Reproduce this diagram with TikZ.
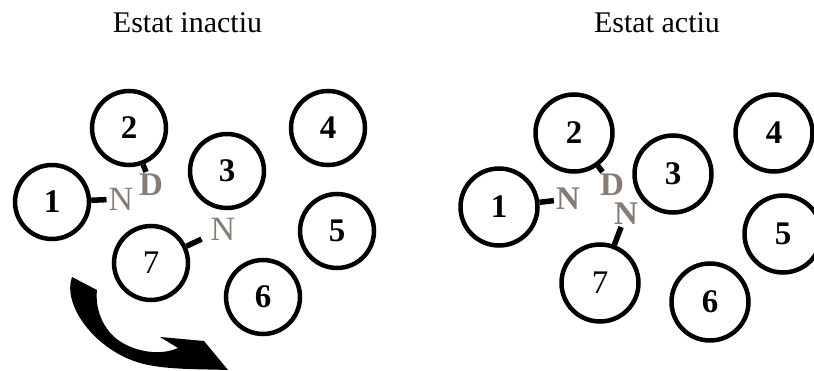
\documentclass[tikz,border=0pt]{standalone}
\usepackage{fontspec}
\setmainfont{Liberation Serif}
\usepackage{tikz}
\definecolor{lettergray}{RGB}{134,124,116}

\begin{document}
\begin{tikzpicture}[x=1pt, y=-1pt,
  main node/.style={draw, circle, line width=4.5pt, minimum size=74pt, inner sep=0pt,
    font=\fontsize{33}{33}\selectfont\bfseries},
  thin node/.style={main node, font=\fontsize{33}{33}\selectfont},
  site/.style={text=lettergray, inner sep=2pt, font=\fontsize{34}{34}\selectfont},
  bold site/.style={site, font=\fontsize{33}{33}\selectfont\bfseries},
  stub/.style={line width=5.5pt}]
\useasboundingbox (0,0) rectangle (814,371);

\node[anchor=base, font=\fontsize{30}{30}\selectfont] (inactiu) at (187.5,33) {Estat inactiu};
\node[anchor=base, font=\fontsize{30}{30}\selectfont] (actiu)   at (657,33)   {Estat actiu};

% estat inactiu
\node[main node] (a1) at (52,202)  {1};
\node[main node] (a2) at (129,128) {2};
\node[main node] (a3) at (227,171) {3};
\node[main node] (a4) at (328,128) {4};
\node[main node] (a5) at (337,231) {5};
\node[main node] (a6) at (263,297) {6};
\node[thin node] (a7) at (151,263) {7};
\node[site]      (an1) at (121,199) {N};
\node[bold site] (ad)  at (151,185) {D};
\node[site, inner sep=9pt] (an2) at (223,229) {N};
\path
(a1) edge[stub] (an1)
(a2) edge[stub] (ad)
(a7) edge[stub] (an2)
;

% gir
\fill (72,277) .. controls (62,305) and (95,350) .. (140,363)
  .. controls (165,370) and (200,369) .. (228,370) -- (204,341) -- (160,337) -- (178,348)
  .. controls (160,356) and (135,352) .. (118,340)
  .. controls (102,328) and (95,308) .. (97,290) -- cycle;

% estat actiu
\begin{scope}[main node/.append style={minimum size=77pt}]
\node[main node] (b1) at (499,207) {1};
\node[main node] (b2) at (574,133) {2};
\node[main node] (b3) at (673,174) {3};
\node[main node] (b4) at (774,133) {4};
\node[main node] (b5) at (783,234) {5};
\node[main node] (b6) at (710,302) {6};
\node[thin node] (b7) at (600,283) {7};
\node[bold site] (bn1) at (568,199) {N};
\node[bold site] (bd)  at (612,185) {D};
\node[bold site] (bn2) at (626,214) {N};
\path
(b1) edge[stub] (bn1)
(b2) edge[stub] (bd)
(b7) edge[stub] (bn2)
;
\end{scope}
\end{tikzpicture}
\end{document}
